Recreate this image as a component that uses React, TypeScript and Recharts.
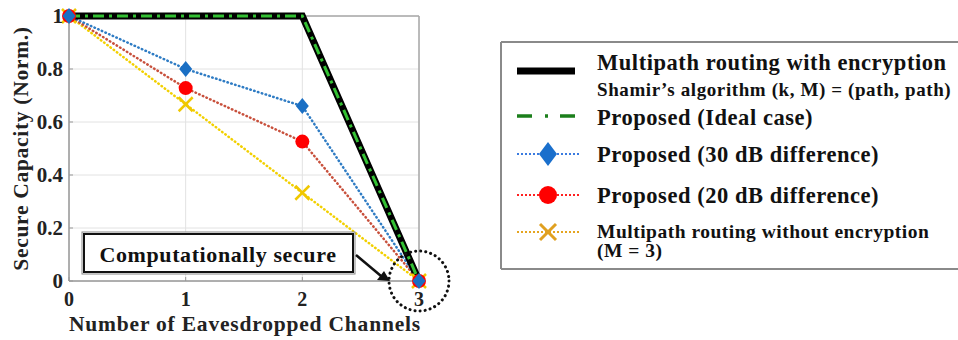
import React from 'react';
import { LineChart, Line, XAxis, YAxis, CartesianGrid, ReferenceLine, ReferenceDot, Legend } from 'recharts';

const channels = [0, 1, 2, 3];
const withEncryption = [1, 1, 1, 0];
const idealCase = [1, 1, 1, 0];
const diff30 = [1, 0.8, 0.66, 0];
const diff20 = [1, 0.728, 0.526, 0];
const noEncryption = [1, 0.667, 0.333, 0];
const xTicks = [0, 1, 2, 3];
const yTicks = [0, 0.2, 0.4, 0.6, 0.8, 1];

const data = channels.map((c, i) => ({
  ch: c,
  enc: withEncryption[i],
  ideal: idealCase[i],
  d30: diff30[i],
  d20: diff20[i],
  noenc: noEncryption[i],
}));

const FONT = "'Liberation Serif', 'Times New Roman', serif";

const diamond = (color: string) => (p: any) => {
  const { cx, cy, index } = p;
  if (cx == null || cy == null) return <g key={`d${index}`} />;
  return <polygon key={`d${index}`} points={`${cx},${cy - 8} ${cx + 6.5},${cy} ${cx},${cy + 8} ${cx - 6.5},${cy}`} fill={color} />;
};
const circle = (color: string) => (p: any) => {
  const { cx, cy, index } = p;
  if (cx == null || cy == null) return <g key={`c${index}`} />;
  return <circle key={`c${index}`} cx={cx} cy={cy} r={7} fill={color} />;
};
const cross = (color: string) => (p: any) => {
  const { cx, cy, index } = p;
  if (cx == null || cy == null) return <g key={`x${index}`} />;
  return (
    <g key={`x${index}`} stroke={color} strokeWidth={2.5}>
      <line x1={cx - 7} y1={cy - 7} x2={cx + 7} y2={cy + 7} />
      <line x1={cx - 7} y1={cy + 7} x2={cx + 7} y2={cy - 7} />
    </g>
  );
};

const legendRows = [
  { key: 'enc', label: 'Multipath routing with encryption' },
  { key: 'ideal', label: 'Proposed (Ideal case)' },
  { key: 'd30', label: 'Proposed (30 dB difference)' },
  { key: 'd20', label: 'Proposed (20 dB difference)' },
  { key: 'noenc', label: 'Multipath routing without encryption' },
];

const LegendBox = () => {
  const tx = 97;
  const big = { fontSize: 22.5, letterSpacing: 0.55 };
  const small = { fontSize: 19, letterSpacing: 0.6 };
  return (
    <svg width={470} height={230} style={{ display: 'block', fontFamily: FONT, fontWeight: 'bold' }}>
      <line x1={1} y1={1} x2={470} y2={1} stroke="#8a8a8a" strokeWidth={2} />
      <line x1={1} y1={1} x2={1} y2={228} stroke="#8a8a8a" strokeWidth={2} />
      <line x1={1} y1={228} x2={470} y2={228} stroke="#8a8a8a" strokeWidth={2} />
      <line x1={17} y1={30} x2={75} y2={30} stroke="#000" strokeWidth={7} />
      <text x={tx} y={21} {...big} dominantBaseline="central" fill="#111">{legendRows[0].label}</text>
      <text x={tx} y={48} {...small} dominantBaseline="central" fill="#111">Shamir’s algorithm (k, M) = (path, path)</text>
      <line x1={17} y1={75} x2={77} y2={75} stroke="#1b7f1b" strokeWidth={3.5} strokeDasharray="15 13 3 12" />
      <text x={tx} y={76} {...big} dominantBaseline="central" fill="#111">{legendRows[1].label}</text>
      <line x1={17} y1={113} x2={80} y2={113} stroke="#3a7be0" strokeWidth={2} strokeDasharray="2 2" />
      <polygon points="48,101 57,113 48,125 39,113" fill="#1a6fcc" />
      <text x={tx} y={113} {...big} dominantBaseline="central" fill="#111">{legendRows[2].label}</text>
      <line x1={17} y1={154} x2={80} y2={154} stroke="#ff2020" strokeWidth={2} strokeDasharray="2 2" />
      <circle cx={48} cy={154} r={9} fill="#ff0000" />
      <text x={tx} y={154} {...big} dominantBaseline="central" fill="#111">{legendRows[3].label}</text>
      <line x1={17} y1={191} x2={80} y2={191} stroke="#e5a520" strokeWidth={2} strokeDasharray="2 2" />
      <g stroke="#e0a020" strokeWidth={3}>
        <line x1={40} y1={183} x2={56} y2={199} />
        <line x1={40} y1={199} x2={56} y2={183} />
      </g>
      <text x={tx} y={190} fontSize={19.5} letterSpacing={0.5} dominantBaseline="central" fill="#111">{legendRows[4].label}</text>
      <text x={tx} y={209} fontSize={19.5} letterSpacing={0.5} dominantBaseline="central" fill="#111">(M = 3)</text>
    </svg>
  );
};

const Annotation = (p: any) => {
  const { cx, cy } = p;
  if (cx == null || cy == null) return <g />;
  return (
    <g>
      <circle cx={cx} cy={cy} r={30} fill="none" stroke="#111" strokeWidth={3} strokeDasharray="0.1 5" strokeLinecap="round" />
      <rect x={cx - 337} y={cy - 49} width={273} height={42} fill="#fff" stroke="#888" strokeWidth={1} />
      <rect x={cx - 335} y={cy - 47} width={269} height={38} fill="none" stroke="#111" strokeWidth={2} />
      <text x={cx - 201} y={cy - 27} textAnchor="middle" dominantBaseline="central" fontFamily={FONT} fontWeight="bold" fontSize={22} letterSpacing={0.6} fill="#111">
        Computationally secure
      </text>
      <line x1={cx - 63} y1={cy - 26} x2={cx - 38} y2={cy - 5} stroke="#111" strokeWidth={2.5} />
      <polygon points={`${cx - 29},${cy} ${cx - 42},${cy - 1} ${cx - 35},${cy - 10}`} fill="#111" />
    </g>
  );
};

const tickStyle = { fontFamily: FONT, fontWeight: 'bold', fontSize: 21, fill: '#222' };

export default function App() {
  return (
    <div style={{ position: 'absolute', left: 0, top: 0, width: 958, height: 340, background: '#fff' }}>
      <LineChart width={958} height={340} data={data} margin={{ top: 16, right: 539, bottom: 29, left: 19 }}>
        <CartesianGrid stroke="#e2e2e2" strokeWidth={1} />
        <XAxis
          dataKey="ch"
          type="number"
          domain={[0, 3]}
          ticks={xTicks}
          height={30}
          tickLine={{ stroke: '#999', strokeWidth: 1 }}
          tickSize={-4}
          tickMargin={15}
          stroke="#999"
          strokeWidth={1.5}
          tick={{ ...tickStyle, fontSize: 20 }}
          label={{
            content: (props: any) => {
              const vb = props.viewBox || { x: 69, width: 350, y: 281 };
              return (
                <text x={vb.x + vb.width / 2 + 1} y={331} textAnchor="middle" fontFamily={FONT} fontWeight="bold" fontSize={21.5} letterSpacing={0.8} fill="#222">
                  Number of Eavesdropped Channels
                </text>
              );
            },
          }}
        />
        <YAxis
          type="number"
          domain={[0, 1]}
          ticks={yTicks}
          width={50}
          tickLine={{ stroke: '#999', strokeWidth: 1 }}
          tickSize={-4}
          tickMargin={10}
          stroke="#999"
          strokeWidth={1.5}
          tick={tickStyle}
          label={{
            content: (props: any) => {
              const vb = props.viewBox || { x: 19, y: 16, height: 265 };
              const cx = 21;
              const cy = vb.y + vb.height / 2;
              return (
                <text x={cx} y={cy} transform={`rotate(-90 ${cx} ${cy})`} textAnchor="middle" dominantBaseline="central" fontFamily={FONT} fontWeight="bold" fontSize={21.5} letterSpacing={0.7} fill="#222">
                  Secure Capacity (Norm.)
                </text>
              );
            },
          }}
        />
        <ReferenceLine y={1} stroke="#a8a8a8" strokeWidth={1.5} />
        <ReferenceLine x={3} stroke="#a8a8a8" strokeWidth={1.5} />
        <Legend layout="horizontal" verticalAlign="middle" align="center" wrapperStyle={{ left: 500, top: 41, width: 470, height: 230 }} content={() => <LegendBox />} />
        <Line dataKey="noenc" name="Multipath routing without encryption" stroke="#f2d000" strokeWidth={2.5} strokeDasharray="0.5 3.5" strokeLinecap="round" dot={cross('#f0c800')} isAnimationActive={false} />
        <Line dataKey="d20" name="Proposed (20 dB difference)" stroke="#c8503c" strokeWidth={2.5} strokeDasharray="0.5 3.5" strokeLinecap="round" dot={circle('#ff0000')} isAnimationActive={false} />
        <Line dataKey="d30" name="Proposed (30 dB difference)" stroke="#2f7cc4" strokeWidth={2.5} strokeDasharray="0.5 3.5" strokeLinecap="round" dot={diamond('#1a6fc4')} isAnimationActive={false} />
        <Line dataKey="enc" name="Multipath routing with encryption" stroke="#000" strokeWidth={7} dot={false} isAnimationActive={false} />
        <Line dataKey="ideal" name="Proposed (Ideal case)" stroke="#33c033" strokeWidth={3} strokeDasharray="11 5 3 5" dot={false} isAnimationActive={false} />
        <ReferenceDot x={3} y={0} r={30} shape={Annotation} ifOverflow="visible" />
      </LineChart>
    </div>
  );
}
